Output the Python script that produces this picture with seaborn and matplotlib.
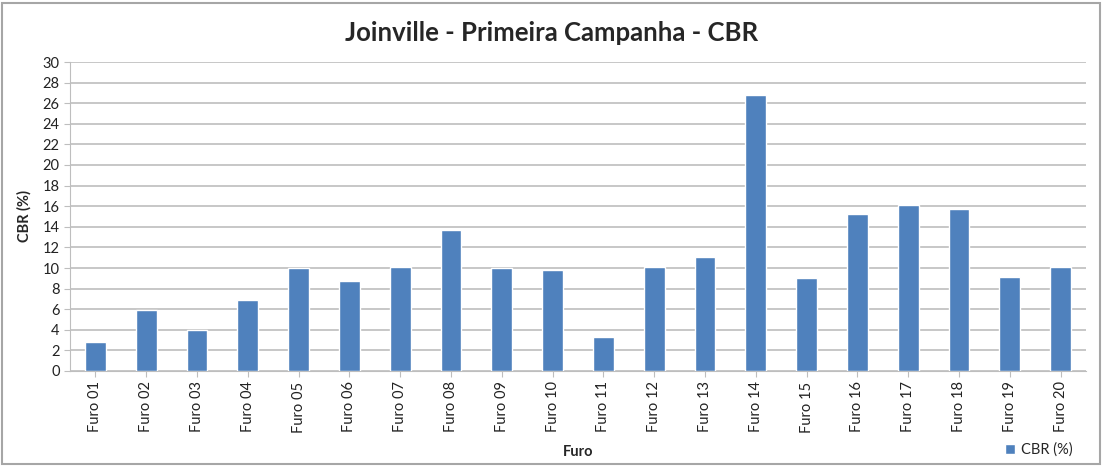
import numpy as np
import matplotlib
matplotlib.use("Agg")
import matplotlib.pyplot as plt
import pandas as pd
import seaborn as sns
from matplotlib.patches import Rectangle


furos = ["Furo %02d" % i for i in range(1, 21)]
cbr = [2.8, 5.9, 4.0, 6.9, 10.0, 8.7, 10.1, 13.7, 10.0, 9.8,
       3.3, 10.1, 11.1, 26.8, 9.0, 15.2, 16.1, 15.7, 9.1, 10.1]
serie = "CBR (%)"
yticks = list(range(0, 31, 2))


def plot_cbr():
    df = pd.DataFrame({"Furo": furos, serie: cbr})

    sns.set_style("white")
    plt.rcParams["font.family"] = ["Lato", "DejaVu Sans"]

    fig = plt.figure(figsize=(11.03, 4.66), dpi=100)
    ax = fig.add_axes([70 / 1103, 1 - 371 / 466, 1016 / 1103, 309 / 466])

    sns.barplot(data=df, x="Furo", y=serie, color="#4F81BD", width=0.41,
                saturation=1, label=serie, ax=ax, zorder=3)

    ax.set_ylim(0, 30)
    ax.set_yticks(yticks)
    ax.set_xlim(-0.5, len(furos) - 0.5)
    ax.grid(axis="y", color="#BEBEBE", linewidth=1.2, zorder=0)
    for s in ["top", "right"]:
        ax.spines[s].set_visible(False)
    ax.spines["left"].set_color("#BEBEBE")
    ax.spines["bottom"].set_color("#BEBEBE")
    ax.tick_params(axis="both", length=4, color="#BEBEBE", labelsize=10.5,
                   labelcolor="#222222", left=True, bottom=True)
    plt.setp(ax.get_xticklabels(), rotation=90)

    ax.set_xlabel("Furo", fontsize=10.5, fontweight="bold", labelpad=9)
    ax.set_ylabel("CBR (%)", fontsize=10.5, fontweight="bold", labelpad=8)
    fig.suptitle("Joinville - Primeira Campanha - CBR", fontsize=18.5,
                 fontweight="bold", y=0.955)

    ax.legend(loc="lower right", bbox_to_anchor=(1.0, -0.32), frameon=False,
              fontsize=10.5, handlelength=0.7, handleheight=0.7, handletextpad=0.4)

    fig.patches.append(Rectangle((2 / 1103, 2 / 466), 1 - 5 / 1103, 1 - 5 / 466,
                                 transform=fig.transFigure, fill=False,
                                 edgecolor="#A6A6A6", linewidth=1.5))

    fig.savefig("out.png", dpi=100)


plot_cbr()
